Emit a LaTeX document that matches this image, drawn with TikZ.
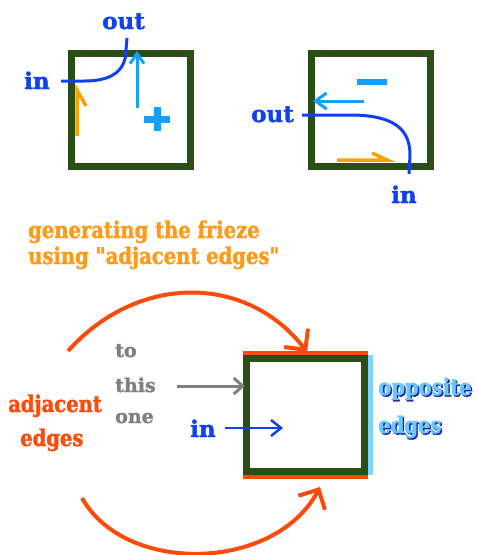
\documentclass[tikz,border=0pt]{standalone}
\usepackage{fontspec}
\setmainfont[BoldFeatures={FakeBold=1.6}]{DejaVu Serif}
\newfontfamily\slab[FakeStretch=0.85,BoldFeatures={FakeBold=1.6}]{DejaVu Serif}
\usetikzlibrary{arrows.meta}
\definecolor{sqgreen}{RGB}{42,78,22}
\definecolor{inkblue}{RGB}{16,64,240}
\definecolor{skyblue}{RGB}{20,160,255}
\definecolor{harp}{RGB}{255,160,0}
\definecolor{headorange}{RGB}{255,155,25}
\definecolor{redorange}{RGB}{255,75,10}
\definecolor{gtext}{RGB}{128,128,128}
\definecolor{edgeblue}{RGB}{125,212,255}
\definecolor{oppfill}{RGB}{105,200,255}
\definecolor{oppshadow}{RGB}{30,40,170}
\tikzset{
  squarebox/.style={draw=sqgreen, line width=7pt},
  lbl/.style={anchor=base west, inner sep=0pt, font=\bfseries\fontsize{23}{23}\selectfont},
  slablbl/.style={anchor=base west, inner sep=0pt, font=\slab\bfseries\fontsize{23}{23}\selectfont},
  smalllbl/.style={anchor=base west, inner sep=0pt, font=\bfseries\fontsize{19}{19}\selectfont, text=gtext},
  inkline/.style={draw=inkblue, line width=3pt},
  skyline/.style={draw=skyblue, line width=3pt},
  harpline/.style={draw=harp, line width=3.5pt, line join=miter},
  arcline/.style={draw=redorange, line width=4pt},
  bigbarb/.style={-{Straight Barb[length=15pt,width=30pt]}},
}
\begin{document}
\begin{tikzpicture}[x=1pt,y=-1pt]
\useasboundingbox (0,0) rectangle (478,555);

% ---------- top-left square ----------
\draw[squarebox] (71.5,53.5) rectangle (190.5,166.5);
\node[lbl, text=inkblue] (outA) at (102,29) {out};
\node[lbl, text=inkblue] (inA) at (24,89) {in};
\coordinate (cAs) at (61,81);
\coordinate (cAe) at (127,38);
\draw[inkline] (cAs) -- (85,81) .. controls (115,81) and (126,68) .. (126,50) -- (cAe);
\coordinate (sAs) at (137,108);
\coordinate (sAe) at (137,51);
\draw[skyline, -{Straight Barb[length=10pt,width=14pt]}] (sAs) -- (sAe);
\draw[draw=skyblue, line width=7pt] (144,119) -- (170,119) (157,107) -- (157,131);
\draw[harpline] (77,136) -- (77,90) -- (86,106);

% ---------- top-right square ----------
\draw[squarebox] (311.5,53.5) rectangle (430.5,166.5);
\node[lbl, text=inkblue] (outB) at (251,122) {out};
\node[lbl, text=inkblue] (inB) at (391,203) {in};
\coordinate (cBs) at (302,115);
\coordinate (cBe) at (409,174);
\draw[inkline] (cBs) -- (350,115) .. controls (395,115) and (410,130) .. (410,155) -- (cBe);
\coordinate (sBs) at (364,101);
\coordinate (sBe) at (313,101);
\draw[skyline, -{Straight Barb[length=11pt,width=16pt]}] (sBs) -- (sBe);
\draw[draw=skyblue, line width=6pt] (357,82) -- (387,82);
\draw[harpline] (337,160) -- (387,160) -- (372,153);

% ---------- heading ----------
\node[slablbl, text=headorange] (headA) at (28,238) {generating the frieze};
\node[slablbl, text=headorange] (headB) at (28,264) {using "adjacent edges"};

% ---------- bottom square ----------
\draw[draw=redorange, line width=4pt] (243,353) -- (368,353) (243,477) -- (368,477);
\draw[draw=edgeblue, line width=5pt] (370.5,355) -- (370.5,475);
\draw[squarebox] (246.5,358.5) rectangle (364.5,471.5);

\node[slablbl, text=redorange] (adjA) at (8,412) {adjacent};
\node[slablbl, text=redorange] (adjB) at (20,446) {edges};

\node[smalllbl] (toA) at (115,357) {to};
\node[smalllbl] (toB) at (115,392) {this};
\node[smalllbl] (toC) at (115,423) {one};

\coordinate (gs) at (177,386);
\coordinate (ge) at (245,386);
\draw[draw=gtext, line width=3pt, -{Straight Barb[length=9pt,width=16pt]}] (gs) -- (ge);

\node[lbl, text=inkblue] (inC) at (190,437) {in};
\coordinate (bs) at (225,428);
\coordinate (be) at (283,428);
\draw[draw=inkblue, line width=2.5pt, -{Straight Barb[length=10pt,width=16pt]}] (bs) -- (be);

\node[slablbl, text=oppshadow] (oppAs) at (379.5,396.5) {opposite};
\node[slablbl, text=oppfill] (oppA) at (378,395) {opposite};
\node[slablbl, text=oppshadow] (oppBs) at (379.5,434.5) {edges};
\node[slablbl, text=oppfill] (oppB) at (378,433) {edges};

% ---------- arcs ----------
\coordinate (arcAs) at (68,351);
\coordinate (arcAe) at (307,352);
\draw[arcline, bigbarb] (arcAs) .. controls (138,273) and (247,274) .. (arcAe);
\coordinate (arcBs) at (82,498);
\coordinate (arcBe) at (320,487);
\draw[arcline, bigbarb] (arcBs) .. controls (125,575) and (275,572) .. (arcBe);
\end{tikzpicture}
\end{document}
